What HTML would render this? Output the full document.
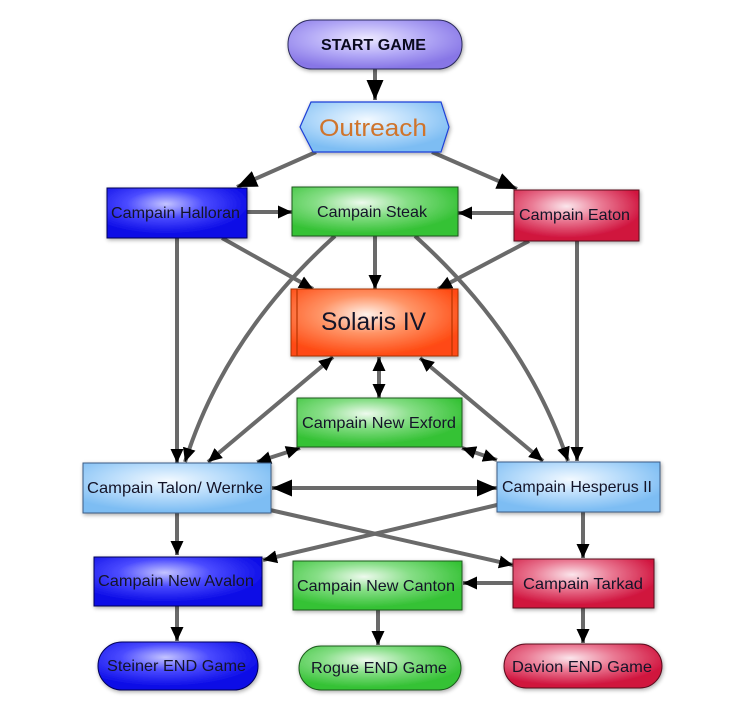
<!DOCTYPE html>
<html>
<head>
<meta charset="utf-8">
<style>
  html,body{margin:0;padding:0;background:#fff;}
  svg{display:block;}
  text{font-family:"Liberation Sans",Arial,sans-serif;fill:#141428;}
</style>
</head>
<body>
<svg width="749" height="712" viewBox="0 0 749 712" xmlns="http://www.w3.org/2000/svg">
  <defs>
    <filter id="sh" x="-20%" y="-30%" width="140%" height="160%">
      <feGaussianBlur in="SourceAlpha" stdDeviation="2.2"/>
      <feOffset dx="1" dy="1.5" result="b"/>
      <feComponentTransfer><feFuncA type="linear" slope="0.35"/></feComponentTransfer>
      <feMerge><feMergeNode/><feMergeNode in="SourceGraphic"/></feMerge>
    </filter>
    <radialGradient id="gPurple" cx="0.45" cy="0.38" r="0.62">
      <stop offset="0" stop-color="#ece8ff"/>
      <stop offset="0.55" stop-color="#b2a8f6"/>
      <stop offset="1" stop-color="#8776e6"/>
    </radialGradient>
    <radialGradient id="gLBlue" cx="0.45" cy="0.35" r="0.62">
      <stop offset="0" stop-color="#f2f9ff"/>
      <stop offset="0.5" stop-color="#b8dcfb"/>
      <stop offset="1" stop-color="#7dbdf3"/>
    </radialGradient>
    <radialGradient id="gBlue" cx="0.42" cy="0.32" r="0.62">
      <stop offset="0" stop-color="#c4c4ff"/>
      <stop offset="0.45" stop-color="#4a4aff"/>
      <stop offset="1" stop-color="#0a0ae6"/>
    </radialGradient>
    <radialGradient id="gGreen" cx="0.42" cy="0.32" r="0.62">
      <stop offset="0" stop-color="#eefaee"/>
      <stop offset="0.45" stop-color="#86de86"/>
      <stop offset="1" stop-color="#36c236"/>
    </radialGradient>
    <radialGradient id="gRed" cx="0.42" cy="0.32" r="0.62">
      <stop offset="0" stop-color="#fbe6ec"/>
      <stop offset="0.45" stop-color="#ea7a94"/>
      <stop offset="1" stop-color="#d0143e"/>
    </radialGradient>
    <radialGradient id="gOrange" cx="0.45" cy="0.38" r="0.62">
      <stop offset="0" stop-color="#fff2ea"/>
      <stop offset="0.45" stop-color="#ff9466"/>
      <stop offset="1" stop-color="#ff4a12"/>
    </radialGradient>
    <marker id="aS" markerUnits="userSpaceOnUse" markerWidth="16" markerHeight="14" refX="14" refY="7" orient="auto-start-reverse">
      <path d="M0,0.5 L14,7 L0,13.5 Z" fill="#000"/>
    </marker>
    <marker id="aB" markerUnits="userSpaceOnUse" markerWidth="22" markerHeight="18" refX="20" refY="9" orient="auto-start-reverse">
      <path d="M0,0.5 L20,9 L0,17.5 Z" fill="#000"/>
    </marker>
  </defs>

  <!-- connectors -->
  <g fill="none" stroke="#6a6a6a" stroke-width="4">
    <path d="M375,69 L375,100" marker-end="url(#aB)"/>
    <path d="M316,152 L237,187" marker-end="url(#aB)"/>
    <path d="M432,152 L517,189" marker-end="url(#aB)"/>
    <path d="M247,212 L292,212" marker-end="url(#aS)"/>
    <path d="M514,213 L458,213" marker-end="url(#aS)"/>
    <path d="M222,238 L313,289" marker-end="url(#aS)"/>
    <path d="M375,236 L375,289" marker-end="url(#aS)"/>
    <path d="M529,241 L438,289" marker-end="url(#aS)"/>
    <path d="M177,238 L177,463" marker-end="url(#aS)"/>
    <path d="M577,241 L577,461" marker-end="url(#aS)"/>
    <path d="M335,236 Q225,335 185,462" marker-end="url(#aS)"/>
    <path d="M415,236 Q525,335 568,461" marker-end="url(#aS)"/>
    <path d="M379,357 L379,398" marker-start="url(#aS)" marker-end="url(#aS)"/>
    <path d="M333,357 L208,462" marker-start="url(#aS)" marker-end="url(#aS)"/>
    <path d="M420,358 L543,461" marker-start="url(#aS)" marker-end="url(#aS)"/>
    <path d="M300,448 L257,462" marker-start="url(#aS)" marker-end="url(#aS)"/>
    <path d="M462,448 L497,460" marker-start="url(#aS)" marker-end="url(#aS)"/>
    <path d="M272,488 L497,488" marker-start="url(#aB)" marker-end="url(#aB)"/>
    <path d="M270,510 L513,565" marker-end="url(#aS)"/>
    <path d="M497,505 L263,560" marker-end="url(#aS)"/>
    <path d="M177,513 L177,555" marker-end="url(#aS)"/>
    <path d="M583,512 L583,558" marker-end="url(#aS)"/>
    <path d="M513,583 L463,583" marker-end="url(#aS)"/>
    <path d="M177,606 L177,641" marker-end="url(#aS)"/>
    <path d="M378,610 L378,645" marker-end="url(#aS)"/>
    <path d="M583,608 L583,643" marker-end="url(#aS)"/>
  </g>

  <!-- nodes -->
  <g filter="url(#sh)">
    <rect x="288" y="20" width="174" height="49" rx="24" fill="url(#gPurple)" stroke="#2c2c5c" stroke-width="1"/>
    <polygon points="300,127 311,102 441,102 449,127 441,152 313,152" fill="url(#gLBlue)" stroke="#1f3fd6" stroke-width="1.2"/>
    <rect x="107" y="188" width="140" height="50" fill="url(#gBlue)" stroke="#00005a" stroke-width="1"/>
    <rect x="292" y="187" width="166" height="49" fill="url(#gGreen)" stroke="#1d5a1d" stroke-width="1"/>
    <rect x="514" y="190" width="125" height="51" fill="url(#gRed)" stroke="#5a0a1e" stroke-width="1"/>
    <rect x="291" y="289" width="167" height="67" fill="url(#gOrange)" stroke="#a83000" stroke-width="1"/>
    <rect x="297" y="398" width="165" height="49" fill="url(#gGreen)" stroke="#1d5a1d" stroke-width="1"/>
    <rect x="83" y="463" width="188" height="50" fill="url(#gLBlue)" stroke="#3a5c86" stroke-width="1"/>
    <rect x="497" y="462" width="163" height="50" fill="url(#gLBlue)" stroke="#3a5c86" stroke-width="1"/>
    <rect x="94" y="557" width="168" height="49" fill="url(#gBlue)" stroke="#00005a" stroke-width="1"/>
    <rect x="293" y="561" width="169" height="49" fill="url(#gGreen)" stroke="#1d5a1d" stroke-width="1"/>
    <rect x="513" y="559" width="141" height="49" fill="url(#gRed)" stroke="#5a0a1e" stroke-width="1"/>
    <rect x="98" y="642" width="160" height="48" rx="24" fill="url(#gBlue)" stroke="#00005a" stroke-width="1"/>
    <rect x="299" y="646" width="162" height="44" rx="22" fill="url(#gGreen)" stroke="#1d5a1d" stroke-width="1"/>
    <rect x="504" y="644" width="158" height="44" rx="22" fill="url(#gRed)" stroke="#5a0a1e" stroke-width="1"/>
  </g>
  <!-- Solaris inner lines -->
  <line x1="297" y1="289" x2="297" y2="356" stroke="#b83400" stroke-width="1.2"/>
  <line x1="452" y1="289" x2="452" y2="356" stroke="#b83400" stroke-width="1.2"/>

  <!-- labels -->
  <text x="321" y="50" font-size="16" font-weight="bold" textLength="105" lengthAdjust="spacingAndGlyphs" style="fill:#0a0a1e">START GAME</text>
  <text x="319" y="136" font-size="24" textLength="108" lengthAdjust="spacingAndGlyphs" style="font-family:'Comic Sans MS','Liberation Sans',sans-serif;fill:#cf742c">Outreach</text>
  <text x="111" y="218" font-size="16" textLength="129" lengthAdjust="spacingAndGlyphs">Campain Halloran</text>
  <text x="317" y="217" font-size="16" textLength="110" lengthAdjust="spacingAndGlyphs">Campain Steak</text>
  <text x="519" y="220" font-size="16" textLength="111" lengthAdjust="spacingAndGlyphs">Campain Eaton</text>
  <text x="321" y="330" font-size="25" textLength="105" lengthAdjust="spacingAndGlyphs">Solaris IV</text>
  <text x="302" y="428" font-size="16" textLength="154" lengthAdjust="spacingAndGlyphs">Campain New Exford</text>
  <text x="87" y="493" font-size="16" textLength="176" lengthAdjust="spacingAndGlyphs">Campain Talon/ Wernke</text>
  <text x="502" y="492" font-size="16" textLength="150" lengthAdjust="spacingAndGlyphs">Campain Hesperus II</text>
  <text x="98" y="586" font-size="16" textLength="156" lengthAdjust="spacingAndGlyphs">Campain New Avalon</text>
  <text x="297" y="591" font-size="16" textLength="158" lengthAdjust="spacingAndGlyphs">Campain New Canton</text>
  <text x="523" y="589" font-size="16" textLength="120" lengthAdjust="spacingAndGlyphs">Campain Tarkad</text>
  <text x="107" y="671" font-size="16" textLength="139" lengthAdjust="spacingAndGlyphs">Steiner END Game</text>
  <text x="311" y="673" font-size="16" textLength="136" lengthAdjust="spacingAndGlyphs">Rogue END Game</text>
  <text x="512" y="672" font-size="16" textLength="140" lengthAdjust="spacingAndGlyphs">Davion END Game</text>
</svg>
</body>
</html>
